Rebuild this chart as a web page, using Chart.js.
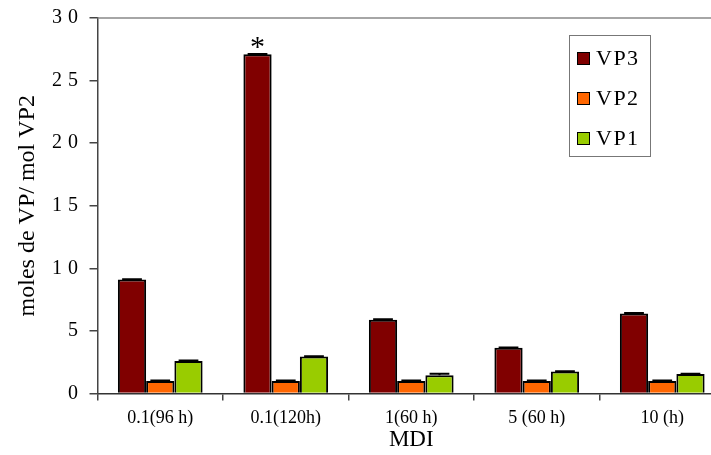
<!DOCTYPE html>
<html>
<head>
<meta charset="utf-8">
<script src="https://cdn.jsdelivr.net/npm/chart.js@4/dist/chart.umd.min.js"></script>
<style>
html, body { margin: 0; padding: 0; overflow: hidden; background: #fff; }
#wrap { position: relative; width: 740px; height: 455px; }
#legend { position: absolute; left: 569px; top: 35px; width: 82px; height: 122px; border: 1px solid #777;
  box-sizing: border-box; font-family: "Liberation Serif", serif; font-size: 22px; letter-spacing: 1.5px; }
.row { position: absolute; left: 7px; height: 24px; display: flex; align-items: center; }
.sw { width: 11px; height: 11px; border: 1.5px solid #000; margin-right: 6px; }
</style>
</head>
<body>
<div id="wrap">
  <canvas id="chart"></canvas>
  <div id="legend"></div>
</div>
<script>
// values
const categories = ['0.1(96 h)', '0.1(120h)', '1(60 h)', '5 (60 h)', '10 (h)'];
const vp3 = [9.1, 27.1, 5.9, 3.65, 6.4];
const vp2 = [1.0, 1.0, 1.0, 1.0, 1.0];
const vp1 = [2.6, 2.95, 1.45, 1.75, 1.55];
const vp3_err = [0.03, 0.03, 0.03, 0.03, 0.03];
const vp2_err = [0.03, 0.03, 0.03, 0.03, 0.03];
const vp1_err = [0.03, 0.03, 0.12, 0.03, 0.03];
const vp3_marks = ['', '*', '', '', ''];

Chart.defaults.font.family = '"Liberation Serif", serif';
Chart.defaults.color = '#000';

let data_set = [
    { label: 'VP3', data: vp3, backgroundColor: '#800000', err: vp3_err },
    { label: 'VP2', data: vp2, backgroundColor: '#ff6600', err: vp2_err },
    { label: 'VP1', data: vp1, backgroundColor: '#99cc00', err: vp1_err }
];
data_set.forEach(function (d) {
    d.borderColor = '#000';
    d.borderWidth = 2;
});

// y tick labels (spaced digits), error caps, frame line and the star
const extras = {
    id: 'extras',
    afterDatasetsDraw(chart) {
        const ctx = chart.ctx;
        const area = chart.chartArea;
        const y = chart.scales.y;
        ctx.save();
        ctx.strokeStyle = '#888';
        ctx.lineWidth = 1.5;
        ctx.beginPath();
        ctx.moveTo(area.left, area.top);
        ctx.lineTo(area.right, area.top);
        ctx.stroke();

        ctx.fillStyle = '#000';
        ctx.font = '20px "Liberation Serif"';
        ctx.textAlign = 'left';
        ctx.textBaseline = 'middle';
        y.ticks.forEach(function (t) {
            let chars = String(t.value).split('');
            let gap = 6;
            let total = gap * (chars.length - 1);
            chars.forEach(function (c) { total += ctx.measureText(c).width; });
            let x = area.left - 19.5 - total;
            let py = y.getPixelForValue(t.value);
            chars.forEach(function (c) {
                ctx.fillText(c, x, py);
                x += ctx.measureText(c).width + gap;
            });
        });

        ctx.strokeStyle = '#000';
        ctx.lineWidth = 2;
        chart.data.datasets.forEach(function (ds, di) {
            chart.getDatasetMeta(di).data.forEach(function (bar, i) {
                let hi = y.getPixelForValue(ds.data[i] + ds.err[i]);
                let half = bar.width * 0.35;
                ctx.beginPath();
                ctx.moveTo(bar.x, bar.y);
                ctx.lineTo(bar.x, hi);
                ctx.moveTo(bar.x - half, hi);
                ctx.lineTo(bar.x + half, hi);
                ctx.stroke();
            });
        });

        let m0 = chart.getDatasetMeta(0);
        ctx.font = '30px "Liberation Serif"';
        ctx.textAlign = 'center';
        vp3_marks.forEach(function (s, i) {
            if (s) ctx.fillText(s, m0.data[i].x, m0.data[i].y - 6);
        });
        ctx.restore();
    }
};

let ctx = document.getElementById('chart').getContext('2d');
let myChart = new Chart(ctx, {
    type: 'bar',
    data: { labels: categories, datasets: data_set },
    options: {
        responsive: true,
        maintainAspectRatio: false,
        animation: false,
        datasets: { bar: { categoryPercentage: 0.675, barPercentage: 1.0 } },
        layout: { padding: { top: 18, right: 15, bottom: 0, left: 0 } },
        plugins: { legend: { display: false }, tooltip: { enabled: false } },
        scales: {
            x: {
                grid: { display: true, drawOnChartArea: false, offset: true, tickLength: 7, color: '#444', lineWidth: 1.5 },
                border: { color: '#333', width: 1.5 },
                ticks: { font: { size: 18 }, padding: 7, maxRotation: 0 },
                title: { display: true, text: 'MDI', font: { size: 23 }, padding: { top: 0, bottom: 1 } },
                afterFit: function (s) { s.height = 61.5; }
            },
            y: {
                min: 0,
                max: 30,
                grid: { drawOnChartArea: false, tickLength: 8, color: '#444', lineWidth: 1.5 },
                border: { color: '#444', width: 1.5 },
                ticks: { stepSize: 5, display: false },
                title: { display: true, text: 'moles de VP/ mol VP2', font: { size: 24 }, padding: { top: 13, bottom: 0 } },
                afterFit: function (s) { s.width = 97.5; }
            }
        }
    },
    plugins: [extras]
});

// legend box in the plot corner
let legend = document.getElementById('legend');
data_set.forEach(function (d, i) {
    let row = document.createElement('div');
    row.className = 'row';
    row.style.top = (10 + i * 40) + 'px';
    let sw = document.createElement('span');
    sw.className = 'sw';
    sw.style.background = d.backgroundColor;
    let txt = document.createElement('span');
    txt.textContent = d.label;
    row.appendChild(sw);
    row.appendChild(txt);
    legend.appendChild(row);
});
</script>
</body>
</html>
